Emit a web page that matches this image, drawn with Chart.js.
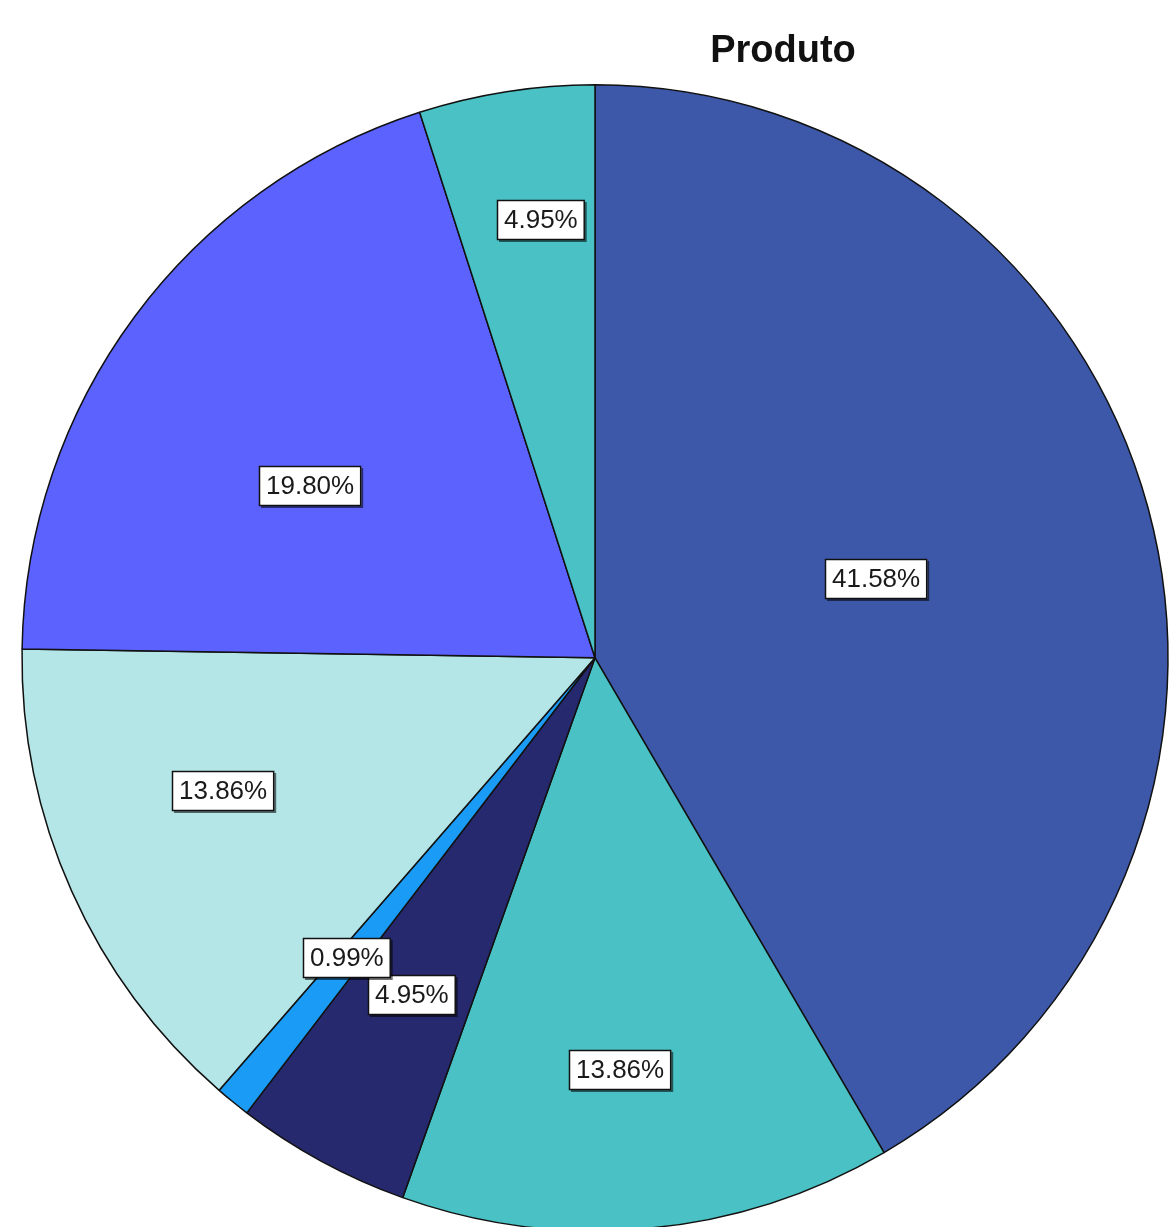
<!DOCTYPE html>
<html>
<head>
<meta charset="utf-8">
<script src="https://cdn.jsdelivr.net/npm/chart.js@4"></script>
<style>
  html, body { margin: 0; padding: 0; background: #fff; overflow: hidden; }
  #wrap { position: relative; width: 1173px; height: 1227px; overflow: hidden; }
  canvas { display: block; }
</style>
</head>
<body>
<div id="wrap"><canvas id="c" width="1566" height="1232"></canvas></div>
<script>
// ---- data ----
const chartTitle = 'Produto';
const categories = ['Produto 1', 'Produto 2', 'Produto 3', 'Produto 4', 'Produto 5', 'Produto 6', 'Produto 7'];
const counts = [42, 14, 5, 1, 14, 20, 5];
const sliceColors = ['#3D58A9', '#49C1C5', '#27296F', '#1A9BF5', '#B4E6E7', '#5C62FE', '#49C1C5'];

// label placement styling (relative to each slice)
const labelRadial = [0.51, 0.72, 0.67, 0.68, 0.69, 0.58, 0.77];
const labelNudgeDeg = [-0.4, 1.8, -0.1, 0.3, 4.4, -5.4, 1.8];

// spacer standing in for the (cropped) legend column on the right
const legendSpacer = {
  id: 'legendSpacer',
  beforeInit(chart) {
    const box = {
      position: 'right', weight: 0, fullSize: false, options: {},
      width: 376, height: 0,
      isHorizontal() { return false; },
      update(maxW, maxH) { this.width = 376; this.height = maxH; },
      draw() {},
      _layers() { return [{ z: 0, draw: () => {} }]; }
    };
    if (Chart.layouts && Chart.layouts.addBox) Chart.layouts.addBox(chart, box);
    else { chart.boxes = chart.boxes || []; chart.boxes.push(box); }
  }
};

const sliceLabels = {
  id: 'sliceLabels',
  afterDatasetsDraw(chart) {
    const ctx = chart.ctx;
    const meta = chart.getDatasetMeta(0);
    const vals = chart.data.datasets[0].data;
    const total = vals.reduce((a, b) => a + b, 0);
    ctx.save();
    ctx.font = '26px "Liberation Sans", Arial, sans-serif';
    ctx.textAlign = 'center';
    ctx.textBaseline = 'middle';
    meta.data.forEach((arc, i) => {
      const p = arc.getProps(['x', 'y', 'startAngle', 'endAngle', 'outerRadius'], true);
      const mid = (p.startAngle + p.endAngle) / 2 + labelNudgeDeg[i] * Math.PI / 180;
      const r = p.outerRadius * labelRadial[i];
      const cx = p.x + Math.cos(mid) * r;
      const cy = p.y + Math.sin(mid) * r;
      const txt = (vals[i] / total * 100).toFixed(2) + '%';
      const w = ctx.measureText(txt).width + 14;
      const h = 40;
      const bx = Math.round(cx - w / 2), by = Math.round(cy - h / 2);
      ctx.fillStyle = 'rgba(0,0,0,0.55)';
      ctx.fillRect(bx + 2, by + 2, w, h);
      ctx.fillStyle = '#fff';
      ctx.fillRect(bx, by, w, h);
      ctx.lineWidth = 1.5;
      ctx.strokeStyle = '#111';
      ctx.strokeRect(bx + 0.5, by + 0.5, w - 1, h - 1);
      ctx.fillStyle = '#1a1a1a';
      ctx.fillText(txt, bx + w / 2, by + h / 2 + 1);
    });
    ctx.restore();
  }
};

new Chart(document.getElementById('c'), {
  type: 'pie',
  data: {
    labels: categories,
    datasets: [{
      data: counts,
      backgroundColor: sliceColors,
      borderColor: '#111',
      borderWidth: 1.5,
      radius: 573
    }]
  },
  options: {
    responsive: false,
    animation: false,
    events: [],
    layout: { padding: 0 },
    plugins: {
      legend: { display: false },
      tooltip: { enabled: false },
      title: {
        display: true,
        text: chartTitle,
        color: '#111',
        font: { family: '"Liberation Sans", Arial, sans-serif', size: 38, weight: 'bold' },
        padding: { top: 29, bottom: 9 }
      }
    }
  },
  plugins: [legendSpacer, sliceLabels]
});
</script>
</body>
</html>
